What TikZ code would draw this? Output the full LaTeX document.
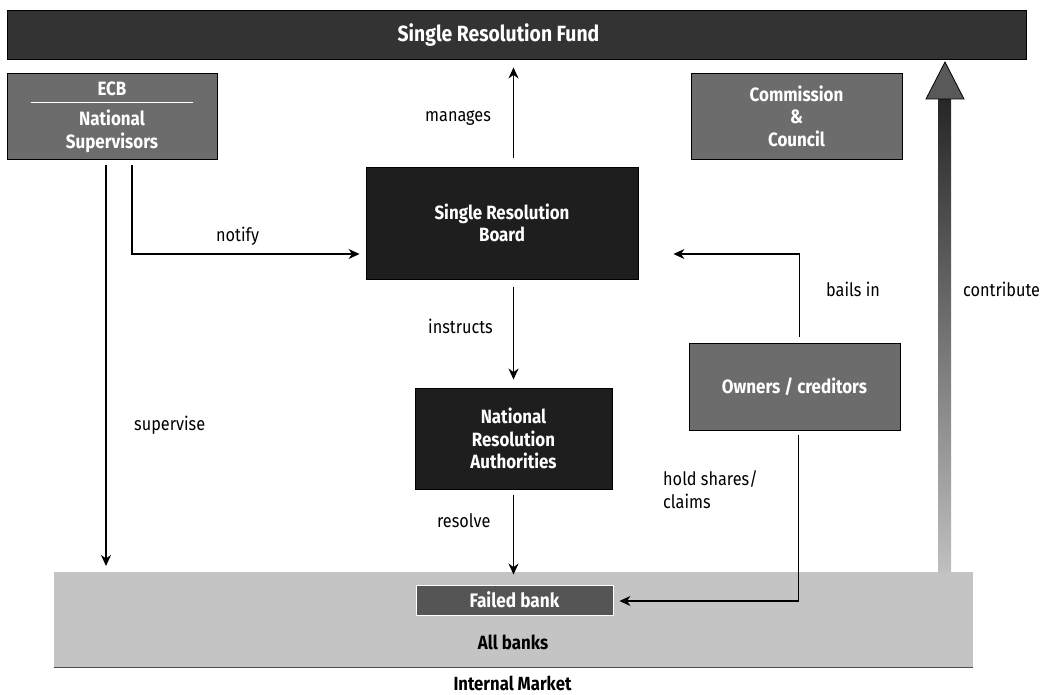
\documentclass[tikz,border=0pt]{standalone}
\usepackage{fontspec}
\setmainfont[FakeStretch=0.88]{Fira Sans}
\usetikzlibrary{arrows.meta,calc}
\definecolor{darkbox}{HTML}{1E1E1E}
\definecolor{fundbox}{HTML}{333333}
\definecolor{midbox}{HTML}{6C6C6C}
\definecolor{failbox}{HTML}{555555}
\definecolor{lightbox}{HTML}{C4C4C4}
\tikzset{
  panel/.style={draw=black,line width=0.9pt,inner sep=0pt,align=center,text=white,font=\fontsize{19.2}{22.5}\selectfont\bfseries},
  darkpanel/.style={panel,fill=darkbox},
  midpanel/.style={panel,fill=midbox,font=\fontsize{19.3}{22.5}\selectfont\bfseries},
  flow/.style={draw=black,line width=1.2pt,-{Stealth[length=11pt,width=10pt,inset=3.5pt]}},
  lbl/.style={font=\fontsize{18.5}{23}\selectfont,text=black,inner sep=0pt,align=left,anchor=west}
}
\begin{document}
\begin{tikzpicture}[x=1pt,y=-1pt]
\useasboundingbox (0,0) rectangle (1042,695);
% Boxes
\node[panel,fill=fundbox,minimum width=1019pt,minimum height=49pt] (fund) at (516.5,34.5) {};
\node[text=white,font=\fontsize{22}{26}\selectfont\bfseries,inner sep=0pt] (fundtitle) at (498.5,35) {Single Resolution Fund};
\node[midpanel,minimum width=210pt,minimum height=86pt] (sup) at (112,116) {};
\node[text=white,font=\fontsize{19.3}{23}\selectfont\bfseries,inner sep=0pt] (ecb) at (112,89) {ECB};
\node[text=white,font=\fontsize{19.3}{23}\selectfont\bfseries,inner sep=0pt,align=center] (natsup) at (112,131) {National\\Supervisors};
\coordinate (rulel) at (31,102.5);
\coordinate (ruler) at (193,102.5);
\draw[white,line width=1.1pt] (rulel) -- (ruler);
\node[midpanel,minimum width=211pt,minimum height=86pt] (comm) at (796.5,116) {Commission\\\&\\Council};
\node[darkpanel,minimum width=272pt,minimum height=112pt] (srb) at (502,223) {Single Resolution\\Board};
\node[darkpanel,minimum width=197pt,minimum height=101pt] (nra) at (513.5,438.5) {National\\Resolution\\Authorities};
\node[midpanel,minimum width=211pt,minimum height=87pt] (own) at (794.5,386.5) {Owners / creditors};
\node[panel,fill=lightbox,draw=none,minimum width=919pt,minimum height=95pt] (all) at (513.5,619.5) {};
\draw[black!70,line width=0.6pt] (all.south west) -- (all.south east);
\node[panel,fill=failbox,draw=white,minimum width=197pt,minimum height=30pt,font=\fontsize{19.6}{22}\selectfont\bfseries] (fail) at (514.5,600) {Failed bank};
\node[font=\fontsize{19.2}{22}\selectfont\bfseries,inner sep=0pt] (allt) at (513,642) {All banks};
\node[font=\fontsize{19}{22}\selectfont\bfseries,inner sep=0pt] (imkt) at (512.5,683.5) {Internal Market};
% Thin connectors
\coordinate (supa) at (106,165);
\coordinate (supb) at (106,566);
\coordinate (nota) at (132,165);
\coordinate (bend) at (800,254);
\draw[flow] (supa) -- (supb);
\draw[flow] (nota) |- ([xshift=-6pt]srb.west |- bend);
\draw[flow] (nra |- srb.north) ++(0,-9) -- ($(nra |- fund.south)+(0,8)$);
\draw[flow] ($(nra |- srb.south)+(0,8)$) -- ($(nra.north)+(0,-8)$);
\draw[flow] ($(nra.south)+(0,6)$) -- ($(nra |- all.north)+(0,3)$);
\draw[flow] ($(own.north west)+(111,-6)$) |- ($(srb.east |- bend)+(35,0)$);
\draw[flow] ($(own.south west)+(110,5)$) |- ($(fail.east)+(6,1)$);
% Contribute arrow
\coordinate (bigtip) at (945,62);
\coordinate (bigbase) at (945,572);
\shade[top color=black!85,bottom color=black!25] (938,99) rectangle (951,572);
\filldraw[draw=black,fill=black!65,line width=0.8pt] (bigtip) -- (964,99) -- (926,99) -- cycle;
% Labels
\node[lbl] (lmanages) at (425,118) {manages};
\node[lbl] (lnotify) at (216,236) {notify};
\node[lbl] (linstructs) at (428,326) {instructs};
\node[lbl] (lsupervise) at (134,425) {supervise};
\node[lbl] (lresolve) at (437,521) {resolve};
\node[lbl] (lbails) at (826,289) {bails in};
\node[lbl] (lcontribute) at (963,289) {contribute};
\node[lbl] (lhold) at (663,489.5) {hold shares/\\claims};
\end{tikzpicture}
\end{document}
